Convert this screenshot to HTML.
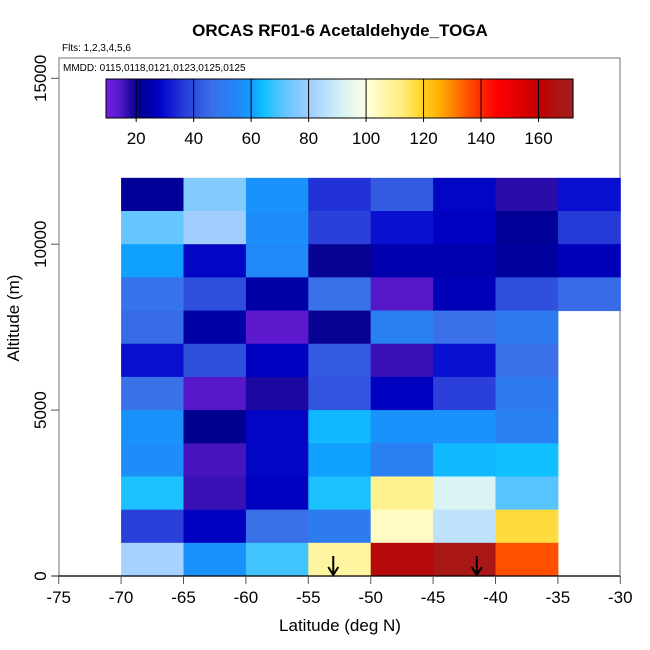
<!DOCTYPE html>
<html><head><meta charset="utf-8"><style>
body{margin:0;background:#fff}
svg{display:block;font-family:"Liberation Sans",sans-serif}
</style></head><body>
<svg id="chart" width="650" height="650" viewBox="0 0 650 650">
<text x="340" y="36" text-anchor="middle" font-size="17" font-weight="bold">ORCAS RF01-6 Acetaldehyde_TOGA</text>
<text x="62" y="51" font-size="10">Flts: 1,2,3,4,5,6</text>
<rect x="59" y="58" width="561" height="518" fill="none" stroke="#888" stroke-width="1.2"/>
<text x="63" y="71" font-size="10">MMDD: 0115,0118,0121,0123,0125,0125</text>
<g id="cells"></g>
<g id="cbar"></g>
<g id="axes"></g>
<text x="340" y="631" text-anchor="middle" font-size="17">Latitude (deg N)</text>
<text x="0" y="0" transform="translate(19,318) rotate(-90)" text-anchor="middle" font-size="17">Altitude (m)</text>
</svg>
<script>
const latBins = [-70,-65,-60,-55,-50,-45,-40,-35];
const altBins = [11000,10000,9000,8000,7000,6000,5000,4000,3000,2000,1000,0];
const cellValues = [
 [22,76,57,35,42,28,17,30],
 [72,80,56,37,30,27,22,36],
 [60,28,55,20,25,25,23,26],
 [47,40,24,46,14,26,40,45],
 [45,24,13,20,52,46,50,null],
 [30,40,27,42,16,30,46,null],
 [46,14,18,41,27,37,50,null],
 [57,21,28,63,57,57,52,null],
 [56,15,28,60,52,63,64,null],
 [65,16,27,65,110,92,70,null],
 [37,27,46,50,103,86,117,null],
 [81,57,68,107,163,168,135,null]
];
const arrowLats = [-53,-41.5];
const xTicks = [-75,-70,-65,-60,-55,-50,-45,-40,-35,-30];
const yTicks = [0,5000,10000,15000];
const cbarTicks = [20,40,60,80,100,120,140,160];
const cbarMin = 9.5, cbarMax = 172;

const stops = [[8,'#7d20e8'],[14,'#5518c8'],[18,'#1a08a0'],[21,'#00008e'],[27,'#0000c0'],[30,'#0a10d0'],[37,'#2a40d8'],[46,'#3a70e8'],[55,'#2088f8'],[60,'#10a0ff'],[64,'#10c0ff'],[70,'#58c4ff'],[80,'#a0cfff'],[92,'#daf4f4'],[100,'#ffffe0'],[107,'#fff5a0'],[112,'#ffee80'],[118,'#ffd830'],[125,'#ffb000'],[135,'#ff5000'],[145,'#ff0000'],[160,'#c00000'],[165,'#b01010'],[172,'#a02020']];
function hx(c){return [1,3,5].map(i=>parseInt(c.substr(i,2),16));}
function color(v){
  if(v<=stops[0][0]) return stops[0][1];
  for(let i=1;i<stops.length;i++){
    if(v<=stops[i][0]){
      const a=hx(stops[i-1][1]),b=hx(stops[i][1]),t=(v-stops[i-1][0])/(stops[i][0]-stops[i-1][0]);
      return 'rgb('+a.map((x,k)=>Math.round(x+(b[k]-x)*t)).join(',')+')';
    }
  }
  return stops[stops.length-1][1];
}
const X = lat => 58.7 + (lat+75)*62.4/5;
const Y = alt => 576 - alt*0.03318;
const CB = v => 106 + (v-cbarMin)*(573-106)/(cbarMax-cbarMin);
const NS='http://www.w3.org/2000/svg';
function mk(tag,attrs,parent){const e=document.createElementNS(NS,tag);for(const k in attrs)e.setAttribute(k,attrs[k]);parent.appendChild(e);return e;}

const cells=document.getElementById('cells');
cellValues.forEach((row,r)=>{
  row.forEach((v,c)=>{
    if(v===null) return;
    const x0=X(latBins[c]),x1=X(latBins[c]+5),y0=Y(altBins[r]+1000),y1=Y(altBins[r]);
    const e=mk('rect',{x:x0,y:y0,width:x1-x0+0.5,height:y1-y0+0.5,fill:color(v)},cells);
    
    
  });
});
arrowLats.forEach(l=>{
  const g=mk('g',{stroke:'#000','stroke-width':2,fill:'none'},cells);
  
  
  mk('line',{x1:X(l),y1:556,x2:X(l),y2:575},g);
  mk('polyline',{points:(X(l)-5)+',567 '+X(l)+',575 '+(X(l)+5)+',567'},g);
});

const cb=document.getElementById('cbar');
const n=200;
for(let i=0;i<n;i++){
  const v=cbarMin+(cbarMax-cbarMin)*i/n;
  const e=mk('rect',{x:CB(v),y:79,width:(573-106)/n+0.6,height:39,fill:color(v)},cb);
  
  
}
mk('rect',{x:106,y:79,width:467,height:39,fill:'none',stroke:'#000','stroke-width':1},cb);
cbarTicks.forEach(t=>{
  const ln=mk('line',{x1:CB(t),y1:79,x2:CB(t),y2:122,stroke:'#000','stroke-width':1},cb);
  
  
  const tx=mk('text',{x:CB(t),y:144,'text-anchor':'middle','font-size':17},cb);
  tx.textContent=t;
  
  
});

const ax=document.getElementById('axes');
mk('line',{x1:52,y1:576,x2:620,y2:576,stroke:'#000','stroke-width':1.2},ax);
xTicks.forEach(t=>{
  mk('line',{x1:X(t),y1:576,x2:X(t),y2:584,stroke:'#555','stroke-width':1},ax);
  const tx=mk('text',{x:X(t),y:603,'text-anchor':'middle','font-size':17},ax);
  tx.textContent=t;
  
  
});
yTicks.forEach(t=>{
  mk('line',{x1:51,y1:Y(t),x2:59,y2:Y(t),stroke:'#555','stroke-width':1},ax);
  const tx=mk('text',{x:0,y:0,transform:'translate(46,'+Y(t)+') rotate(-90)','text-anchor':'middle','font-size':17},ax);
  tx.textContent=t;
  
  
});
</script>
</body></html>
